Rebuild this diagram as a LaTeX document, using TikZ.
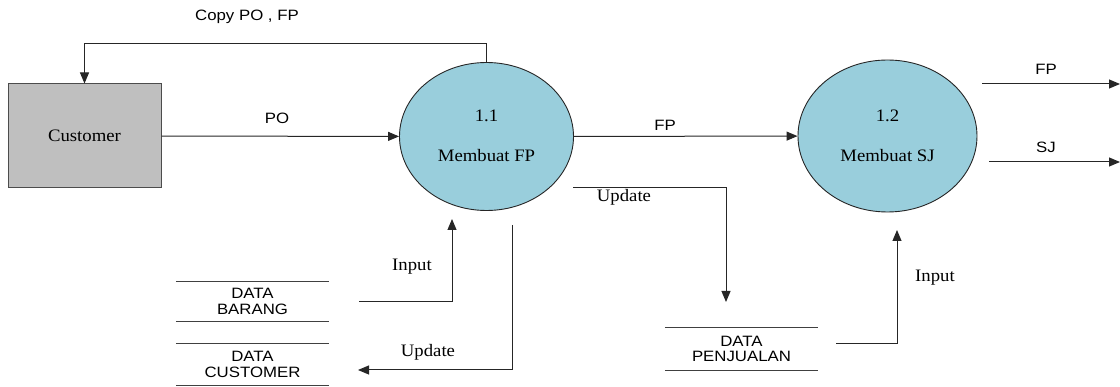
\documentclass[tikz,border=0pt]{standalone}
\usepackage{fontspec}
\setmainfont[FakeStretch=1.07]{Liberation Serif}
\newfontfamily\lsans[FakeStretch=1.12]{Liberation Sans}
\usetikzlibrary{shapes.geometric,arrows.meta}

\definecolor{procblue}{RGB}{153,206,220}
\definecolor{entgray}{RGB}{191,191,191}

\begin{document}
\begin{tikzpicture}[x=1pt,y=-1pt,
  flow/.style={line width=1pt, draw=black!85},
  arr/.style={flow, -{Triangle[length=11pt,width=9pt]}},
  proc/.style={ellipse, draw=black!85, line width=0.9pt, fill=procblue,
    inner sep=0pt, minimum width=174pt, minimum height=148pt},
  entity/.style={rectangle, draw=black!70, line width=1pt, fill=entgray,
    minimum width=153pt, minimum height=104pt, inner sep=0pt,
    font=\fontsize{17.5}{20}\selectfont},
  store/.style={rectangle, inner sep=0pt, minimum width=153pt,
    align=center, font=\lsans\fontsize{15}{15.5}\selectfont},
  storeline/.style={line width=1pt, draw=black!75},
  ptext/.style={font=\fontsize{17.5}{20}\selectfont, inner sep=0pt},
  flabel/.style={font=\lsans\fontsize{15}{17}\selectfont, inner sep=0pt},
  slabel/.style={font=\fontsize{17.5}{20}\selectfont, inner sep=0pt}
]
\useasboundingbox (0,0) rectangle (1120,387);

% external entity
\node[entity] (cust) at (84.5,136) {Customer};

% processes
\node[proc] (p11) at (486.5,136.5) {};
\node[ptext] (p11n) at (486.5,116) {1.1};
\node[ptext] (p11t) at (486.5,156) {Membuat FP};

\node[proc, minimum width=179pt, minimum height=152pt] (p12) at (887.5,136) {};
\node[ptext] (p12n) at (887.5,116) {1.2};
\node[ptext] (p12t) at (887.5,156) {Membuat SJ};

% data stores
\node[store, minimum height=39pt] (barang) at (252.5,301.5) {DATA\\BARANG};
\node[store, minimum height=41pt] (dcust) at (252.5,364.5) {DATA\\CUSTOMER};
\node[store, minimum height=42pt] (jual) at (741.5,349) {DATA\\PENJUALAN};
\foreach \s in {barang,dcust,jual}{
  \draw[storeline] (\s.north west) -- (\s.north east);
  \draw[storeline] (\s.south west) -- (\s.south east);
}

% free ends of flows
\coordinate (copyR) at (p11.north |- 0,44);
\coordinate (copyL) at (cust.north |- 0,44);
\coordinate (fpS) at (982,84);
\coordinate (fpE) at (1120,84);
\coordinate (sjS) at (989,162);
\coordinate (sjE) at (1120,162);
\coordinate (upS) at (573,188);
\coordinate (upC) at (726,188);
\coordinate (upE) at (726,302);
\coordinate (inS) at (836,344);
\coordinate (inC) at (897,344);
\coordinate (inE) at (897,230);
\coordinate (brS) at (359,302);
\coordinate (brC) at (452,302);
\coordinate (brE) at (452,219);
\coordinate (ucS) at (512,225);
\coordinate (ucC) at (512,370);
\coordinate (ucE) at (358,370);

% flows
\draw[arr] (p11.north) -- (copyR) -- (copyL) -- (cust.north);
\node[flabel] (lcopy) at (247,17) {Copy PO , FP};

\draw[arr] (cust) -- (p11);
\node[flabel] (lpo) at (277,118) {PO};

\draw[arr] (p11) -- (p12);
\node[flabel] (lfp) at (665,125) {FP};

\draw[arr] (fpS) -- (fpE);
\node[flabel] (lfpo) at (1046,69) {FP};
\draw[arr] (sjS) -- (sjE);
\node[flabel] (lsj) at (1046,147) {SJ};

\draw[arr] (upS) -- (upC) -- (upE);
\node[slabel] (lup1) at (624,197) {Update};

\draw[arr] (inS) -- (inC) -- (inE);
\node[slabel] (lin2) at (935,278) {Input};

\draw[arr] (brS) -- (brC) -- (brE);
\node[slabel] (lin1) at (412,267) {Input};

\draw[arr] (ucS) -- (ucC) -- (ucE);
\node[slabel] (lup2) at (428,352) {Update};
\end{tikzpicture}
\end{document}
